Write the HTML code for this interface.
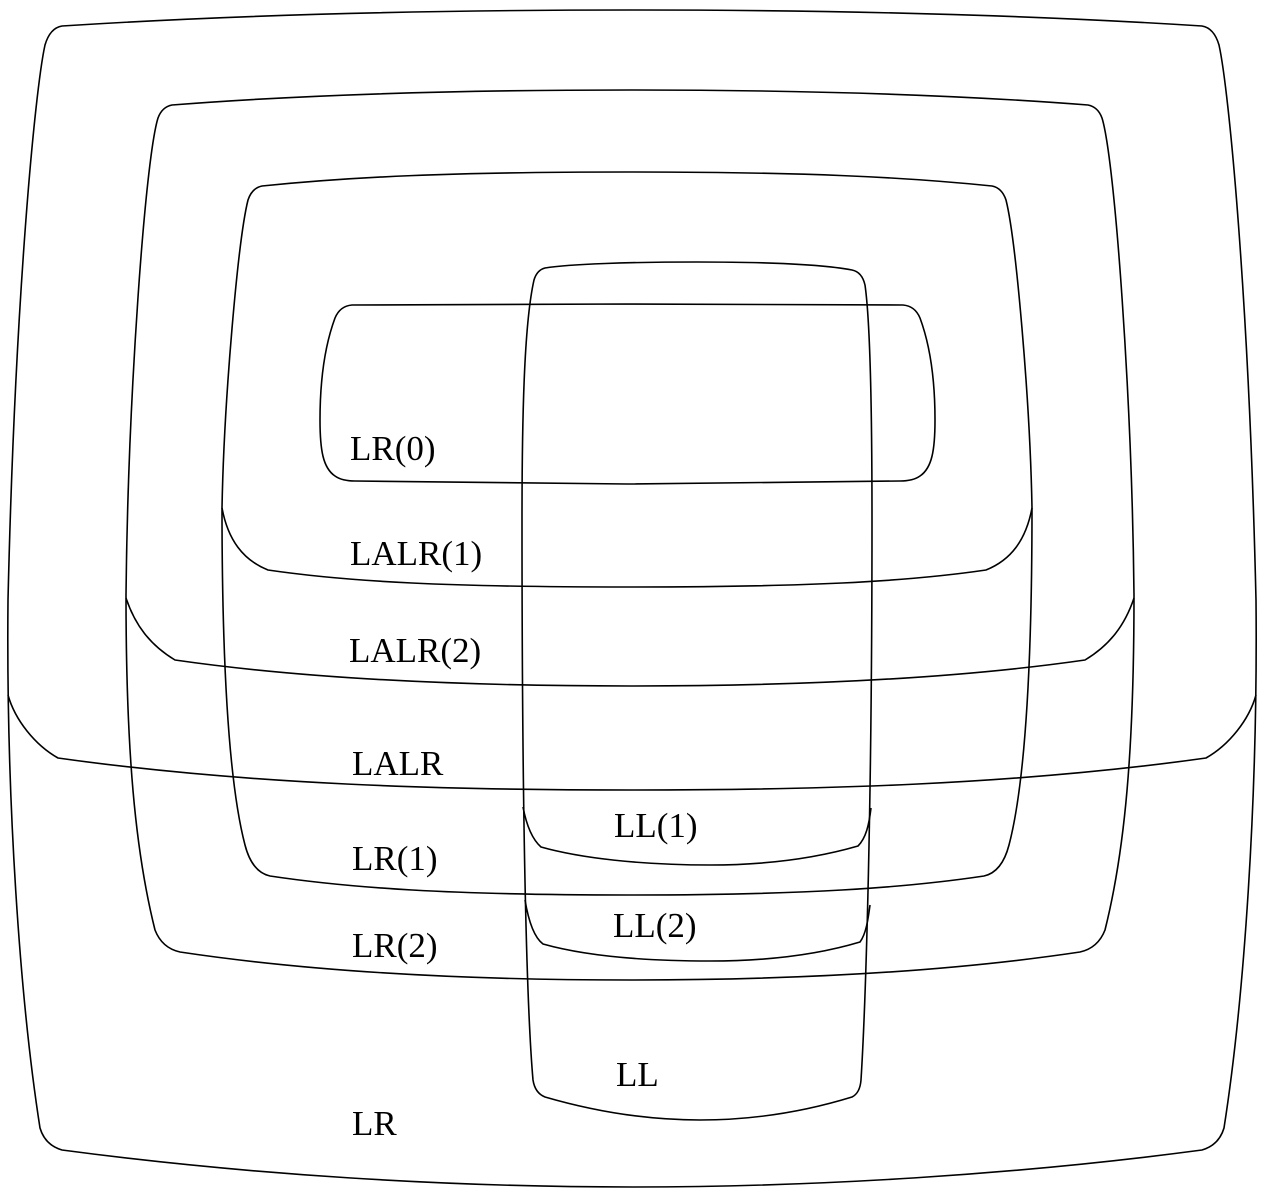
<!DOCTYPE html>
<html><head><meta charset="utf-8"><style>
html,body{margin:0;padding:0;background:#fff;}
svg{display:block;}
text{font-family:"Liberation Serif",serif;font-size:35px;fill:#000;}
</style></head><body>
<svg width="1264" height="1193" viewBox="0 0 1264 1193" xmlns="http://www.w3.org/2000/svg">
<g fill="none" stroke="#000" stroke-width="1.6">
<path d="M632,10 C450,10 250,14 62,26 Q50,28 45,45 C35,90 15,300 8,600 C6,800 20,1000 40,1128 Q45,1145 62,1150 C250,1175 450,1187 632,1187 C814,1187 1014,1175 1202,1150 Q1219,1145 1224,1128 C1244,1000 1258,800 1256,600 C1249,300 1229,90 1219,45 Q1214,28 1202,26 C1014,14 814,10 632,10 Z"/>
<path d="M8,695 C15,720 35,745 58,758 C250,785 450,790 632,790 C814,790 1014,785 1206,758 C1229,745 1249,720 1256,695"/>
<path d="M630,90 C450,90 300,95 172,105 Q162,107 158,118 C145,160 128,400 126,595 C126,750 135,850 155,930 Q162,948 180,952 C300,970 450,980 630,980 C810,980 960,970 1080,952 Q1098,948 1105,930 C1125,850 1134,750 1134,595 C1132,400 1115,160 1102,118 Q1098,107 1088,105 C960,95 810,90 630,90 Z"/>
<path d="M126,598 C135,625 150,645 175,660 C300,678 450,686 630,686 C810,686 960,678 1085,660 C1110,645 1125,625 1134,598"/>
<path d="M627,172 C450,172 350,177 262,186 Q252,188 248,200 C238,240 224,400 222,508 C222,650 228,780 245,845 Q252,872 270,876 C350,888 450,895 627,895 C804,895 904,888 984,876 Q1002,872 1009,845 C1026,780 1032,650 1032,508 C1030,400 1016,240 1006,200 Q1002,188 992,186 C904,177 804,172 627,172 Z"/>
<path d="M222,508 C228,540 243,560 268,570 C350,582 450,587 627,587 C804,587 904,582 986,570 C1011,560 1026,540 1032,508"/>
<path d="M627,304 L352,305 Q340,306 335,318 C325,345 320,380 320,420 C320,450 323,468 335,476 Q342,481 355,481 L627,484 L900,481 Q913,481 920,476 C932,468 935,450 935,420 C935,380 930,345 920,318 Q915,306 903,305 Z"/>
<path d="M697,262 C630,262 570,264 545,268 Q537,270 534,280 C525,320 522,400 522,520 C522,800 526,1000 533,1080 Q535,1093 545,1097 C600,1113 650,1120 700,1120 C750,1120 800,1113 852,1097 Q860,1093 861,1080 C866,1000 872,800 872,520 C872,400 870,320 865,285 Q862,272 852,270 C820,264 760,262 697,262 Z"/>
<path d="M523,807 C527,828 533,840 541,847 C580,858 640,865 710,865 C770,865 820,857 858,846 C866,838 869,825 871,808"/>
<path d="M525,900 C529,924 535,938 543,944 C582,955 640,961 710,961 C770,961 820,954 860,942 C866,934 868,920 870,905"/>
</g>
<text x="350" y="460">LR(0)</text>
<text x="350" y="565">LALR(1)</text>
<text x="349" y="662">LALR(2)</text>
<text x="352" y="775">LALR</text>
<text x="352" y="870">LR(1)</text>
<text x="352" y="957">LR(2)</text>
<text x="352" y="1135">LR</text>
<text x="614" y="837">LL(1)</text>
<text x="613" y="937">LL(2)</text>
<text x="616" y="1086">LL</text>
</svg>
</body></html>
